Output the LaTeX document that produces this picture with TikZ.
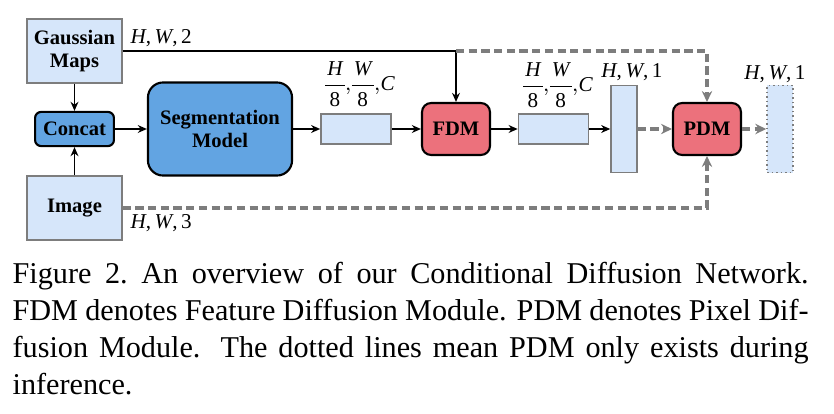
\documentclass[tikz,border=0pt]{standalone}
\usepackage{fontspec}
\setmainfont{Liberation Serif}[BoldFont={Liberation Serif Bold}]
\usepackage{amsmath}
\usetikzlibrary{arrows.meta,positioning,calc}
\definecolor{maplight}{RGB}{214,230,250}
\definecolor{modblue}{RGB}{98,164,226}
\definecolor{diffred}{RGB}{236,113,124}
\definecolor{flowgray}{RGB}{125,125,125}

\begin{document}
\begin{tikzpicture}[x=0.331pt, y=-0.331pt,
    inbox/.style={rectangle, draw=flowgray, fill=maplight, line width=0.5pt,
                  minimum width=31.4pt, minimum height=21.2pt, inner sep=0pt,
                  align=center, font=\fontsize{6.8}{7.6}\selectfont\bfseries},
    featbox/.style={rectangle, draw=flowgray, fill=maplight, line width=0.5pt,
                    minimum width=23.2pt, minimum height=9.9pt, inner sep=0pt},
    tallbox/.style={featbox, minimum width=8.6pt, minimum height=28.8pt},
    modbox/.style={rectangle, draw=black, fill=modblue, line width=0.7pt,
                   inner sep=0pt, align=center, font=\fontsize{6.8}{7.6}\selectfont\bfseries},
    diffbox/.style={rectangle, draw=black, fill=diffred, line width=0.7pt, rounded corners=3pt,
                    minimum width=22.5pt, minimum height=17.2pt, inner sep=0pt,
                    font=\fontsize{6.8}{7.6}\selectfont\bfseries},
    dimlabel/.style={inner sep=0pt, font=\fontsize{7}{8}\selectfont},
    arr/.style={-{Stealth[length=3pt,width=2.6pt]}, line width=0.6pt, black},
    darr/.style={-{Stealth[length=3.6pt,width=3.4pt]}, line width=1pt, flowgray,
                 dash pattern=on 2.7pt off 1.5pt}
]
    \useasboundingbox (0,0) rectangle (834,414);
    \nulldelimiterspace=0pt

    % inputs
    \node[inbox] (gauss) at (74.5,51) {Gaussian\\Maps};
    \node[modbox, rounded corners=2pt, minimum width=26.1pt, minimum height=11.3pt] (concat) at (74.5,129) {Concat};
    \node[inbox] (img) at (74.5,208) {Image};

    % network
    \node[modbox, rounded corners=5pt, minimum width=47.7pt, minimum height=30.8pt] (seg) at (220,129) {Segmentation\\Model};
    \node[featbox] (feat1) at (356,129) {};
    \node[diffbox] (fdm) at (456,129) {FDM};
    \node[featbox] (feat2) at (553.5,129) {};
    \node[tallbox] (mask) at (624,129) {};
    \node[diffbox] (pdm) at (707,129) {PDM};
    \node[tallbox, densely dotted] (out) at (780,129) {};

    % sizes
    \node[dimlabel, anchor=west] (lgauss) at (130,38.5) {\textit{H},\,\textit{W},\,2};
    \node[dimlabel, anchor=west] (limg) at (130,223.5) {\textit{H},\,\textit{W},\,3};
    \node[dimlabel] (lfeat1) at (360,84) {$\displaystyle \frac{\mkern1.5mu\textit{H}\mkern1.5mu}{\text{8}}{,}\frac{\mkern1.5mu\textit{W}\mkern1.5mu}{\text{8}}{,}\text{\itshape C}$};
    \node[dimlabel] (lfeat2) at (558,85) {$\displaystyle \frac{\mkern1.5mu\textit{H}\mkern1.5mu}{\text{8}}{,}\frac{\mkern1.5mu\textit{W}\mkern1.5mu}{\text{8}}{,}\text{\itshape C}$};
    \node[dimlabel] (lmask) at (632,72) {\textit{H},\,\textit{W},\,1};
    \node[dimlabel] (lout) at (775,74) {\textit{H},\,\textit{W},\,1};

    \draw[arr] (gauss) -- (concat);
    \draw[arr] (img) -- (concat);
    \draw[arr] (concat) -- (seg);
    \draw[arr] (seg) -- (feat1);
    \draw[arr] (feat1) -- (fdm);
    \draw[arr] (fdm) -- (feat2);
    \draw[arr] (feat2) -- (mask);
    \draw[arr] (gauss.east) -| (fdm.north);

    % only at inference
    \draw[darr] (fdm.north |- gauss.east) -| (pdm.north);
    \draw[darr] (img.east) -| (pdm.south);
    \draw[darr] (mask) -- (pdm);
    \draw[darr] (pdm) -- (out);

    % caption
    \node[anchor=north west, inner sep=0pt, text width=263.5pt, align=justify,
          font=\fontsize{10}{12.2}\selectfont] (caption) at (12,262)
        {Figure 2.\ An overview of our Conditional Diffusion Network.\linebreak
         FDM denotes Feature Diffusion Module. PDM denotes Pixel Dif-\linebreak
         fusion Module.  The dotted lines mean PDM only exists during\linebreak
         inference.};
\end{tikzpicture}
\end{document}
